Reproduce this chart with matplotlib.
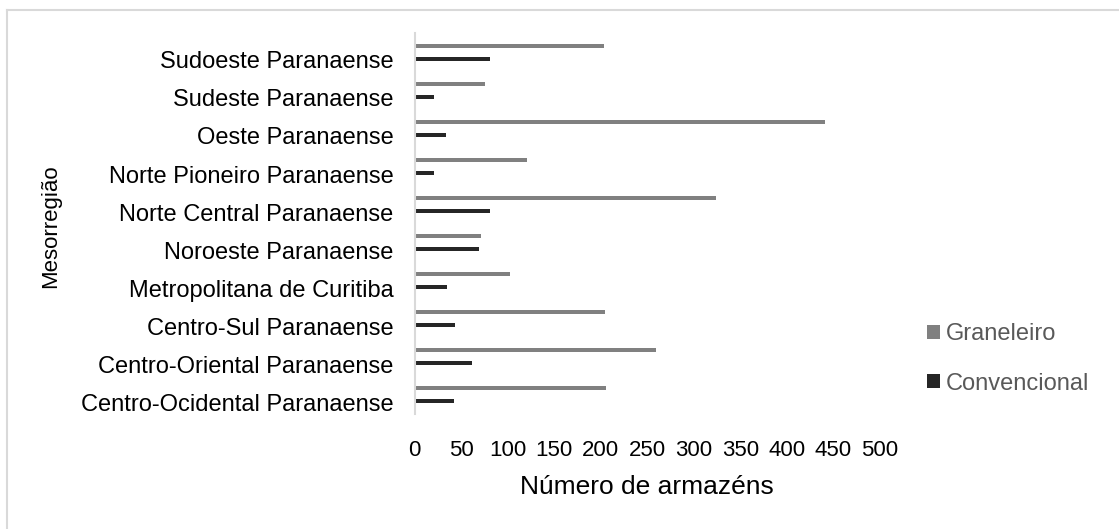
import matplotlib
matplotlib.use("Agg")
import matplotlib.pyplot as plt
from matplotlib.lines import Line2D

plt.rcParams['font.family'] = ['Liberation Sans', 'DejaVu Sans']

# categories from bottom to top
regioes = [
    "Centro-Ocidental Paranaense",
    "Centro-Oriental Paranaense",
    "Centro-Sul Paranaense",
    "Metropolitana de Curitiba",
    "Noroeste Paranaense",
    "Norte Central Paranaense",
    "Norte Pioneiro Paranaense",
    "Oeste Paranaense",
    "Sudeste Paranaense",
    "Sudoeste Paranaense",
]
graneleiro = [206, 259, 205, 103, 71, 324, 121, 441, 76, 204]
convencional = [42, 62, 43, 35, 69, 81, 21, 34, 21, 81]
x_ticks = [0, 50, 100, 150, 200, 250, 300, 350, 400, 450, 500]

W, H = 1119, 529
fig = plt.figure(figsize=(W / 100, H / 100), dpi=100)
ax = fig.add_axes([414.5 / W, 1 - 413.8 / H, 465.5 / W, 380.6 / H])

pos = list(range(len(regioes)))
bar_h = 0.11
off = 0.17
ax.barh([p + off for p in pos], graneleiro, height=bar_h, color="#808080", label="Graneleiro")
ax.barh([p - off for p in pos], convencional, height=bar_h, color="#262626", label="Convencional")

ax.set_xlim(0, 500)
ax.set_ylim(-0.5, len(regioes) - 0.5)
ax.set_xticks(x_ticks)
ax.set_xticklabels([str(t) for t in x_ticks], fontsize=16)
ax.set_yticks([p - 0.2 for p in pos])
ax.set_yticklabels(regioes, fontsize=17)
ax.tick_params(axis="both", length=0)
ax.tick_params(axis="y", pad=15)
ax.tick_params(axis="x", pad=19)

for s in ["top", "right", "bottom"]:
    ax.spines[s].set_visible(False)
ax.spines["left"].set_color("#d9d9d9")
ax.spines["left"].set_linewidth(1.5)

ax.set_xlabel("Número de armazéns", fontsize=19, labelpad=10)
fig.text(51 / W, 1 - 226 / H, "Mesorregião", rotation=90, fontsize=16,
         ha="center", va="center")

# legend (order: Graneleiro on top)
leg = ax.legend(loc="center left", bbox_to_anchor=(906 / W, 1 - 359 / H),
                bbox_transform=fig.transFigure, frameon=False, fontsize=17,
                handlelength=0.55, handleheight=0.55, handletextpad=0.25,
                labelspacing=1.15, labelcolor="#595959")

# chart border (cut at the right and bottom edges)
fig.add_artist(Line2D([7 / W, 7 / W], [0, 1 - 10 / H], color="#d9d9d9", lw=1.5))
fig.add_artist(Line2D([7 / W, 1], [1 - 10 / H, 1 - 10 / H], color="#d9d9d9", lw=1.5))

fig.savefig("out.png", dpi=100)
